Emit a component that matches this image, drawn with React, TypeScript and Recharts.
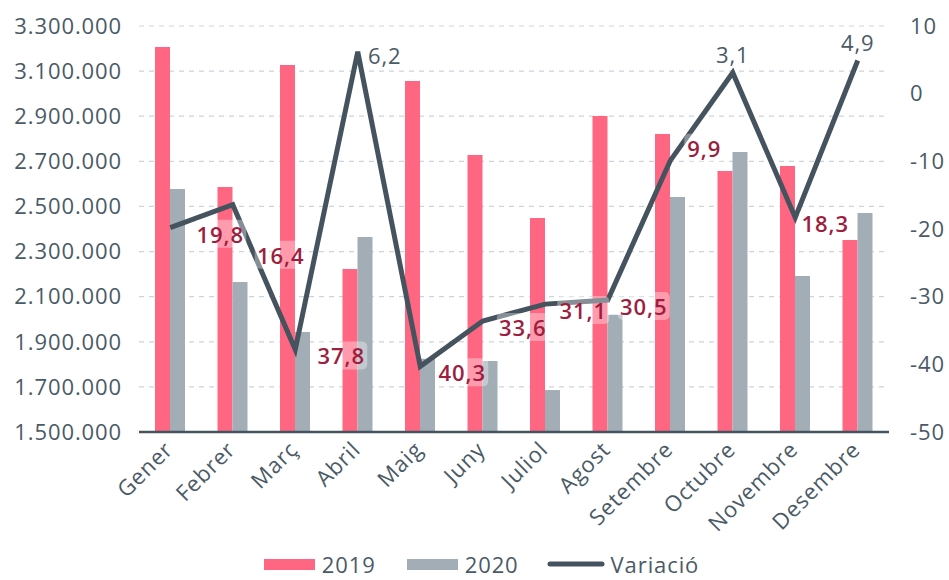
import React from 'react';
import { ComposedChart, Bar, Line, XAxis, YAxis, CartesianGrid, Legend, LabelList } from 'recharts';

const months = ['Gener', 'Febrer', 'Març', 'Abril', 'Maig', 'Juny', 'Juliol', 'Agost', 'Setembre', 'Octubre', 'Novembre', 'Desembre'];
const values2019 = [3207000, 2586000, 3127000, 2223000, 3056000, 2728000, 2449000, 2901000, 2821000, 2657000, 2679000, 2351000];
const values2020 = [2577000, 2165000, 1943000, 2365000, 1825000, 1815000, 1686000, 2020000, 2542000, 2741000, 2192000, 2471000];
const variacio = [-19.8, -16.4, -37.8, 6.2, -40.3, -33.6, -31.1, -30.5, -9.9, 3.1, -18.3, 4.9];
const leftTicks = [1500000, 1700000, 1900000, 2100000, 2300000, 2500000, 2700000, 2900000, 3100000, 3300000];
const rightTicks = [-50, -40, -30, -20, -10, 0, 10];

const FONT = '"Open Sans", sans-serif';
const TEXT = '#4A5A66';
const PINK = '#FF6682';
const GRAY = '#A2ADB6';
const LINE = '#45535F';
const RED = '#9D1E3E';
const FS = 22;
const LS = 0.9;

const fmtThousands = (v: number) => String(v).replace(/\B(?=(\d{3})+(?!\d))/g, '.');
const fmtDec = (v: number) => Math.abs(v).toFixed(1).replace('.', ',');

const XTick = (props: any) => {
  const { x, y, payload } = props;
  return (
    <g transform={`translate(${x + 4},${y + 19})`}>
      <text x={0} y={0} textAnchor="end" transform="rotate(-45)" fill={TEXT} fontSize={FS} fontFamily={FONT} letterSpacing={LS}>
        {payload.value}
      </text>
    </g>
  );
};

const labelNudge: Record<number, { dx: number; dy: number }> = {
  1: { dx: 0, dy: 44 },
  3: { dx: 27, dy: 22 },
  8: { dx: 0, dy: -19 },
};

const VarLabel = (props: any) => {
  const { x, y, value, index } = props;
  if (x == null || y == null) return null;
  const nudge = labelNudge[index] || { dx: 0, dy: 0 };
  const txt = fmtDec(value);
  if (value < 0) {
    const cx = x + 50 - 2 * index + nudge.dx;
    const cy = y + 6 + nudge.dy;
    const w = txt.length * 12 + 4;
    return (
      <g>
        <rect x={cx - w / 2} y={cy - 14} width={w} height={28} rx={5} fill="#ffffff" fillOpacity={0.35} />
        <text x={cx} y={cy} textAnchor="middle" dominantBaseline="central" fill={RED} fontSize={FS} fontWeight={600} fontFamily={FONT} letterSpacing={LS}>
          {txt}
        </text>
      </g>
    );
  }
  const cx = x + nudge.dx;
  const cy = y - 19 + nudge.dy;
  return (
    <text x={cx} y={cy} textAnchor="middle" dominantBaseline="central" fill={TEXT} fontSize={FS} fontFamily={FONT} letterSpacing={LS}>
      {txt}
    </text>
  );
};

const LegendContent = () => (
  <div style={{ display: 'flex', justifyContent: 'center', alignItems: 'center', fontFamily: FONT, fontSize: FS, lineHeight: '24px', letterSpacing: LS, color: TEXT, height: 24, paddingLeft: 14 }}>
    <span style={{ display: 'inline-block', width: 51, height: 11, background: PINK, marginRight: 7 }} />
    <span style={{ marginRight: 31 }}>2019</span>
    <span style={{ display: 'inline-block', width: 51, height: 11, background: GRAY, marginRight: 7 }} />
    <span style={{ marginRight: 28 }}>2020</span>
    <svg width={58} height={10} style={{ marginRight: 6 }}>
      <line x1={3} y1={5} x2={55} y2={5} stroke={LINE} strokeWidth={5} strokeLinecap="round" />
    </svg>
    <span>Variació</span>
  </div>
);

export default function App() {
  const data = months.map((m, i) => ({ month: m, y2019: values2019[i], y2020: values2020[i], variacio: variacio[i] }));
  return (
    <div style={{ position: 'absolute', left: 0, top: 0, width: 949, height: 580, background: '#fff', overflow: 'hidden' }}>
      <ComposedChart width={949} height={580} data={data} margin={{ top: 26, right: 0, bottom: 48, left: 0 }} barGap={0}>
        <CartesianGrid yAxisId="left" vertical={false} stroke="#CDD4DB" strokeDasharray="5 5" strokeWidth={1.2} />
        <XAxis
          dataKey="month"
          interval={0}
          height={100}
          tickLine={false}
          tickSize={0}
          tickMargin={0}
          axisLine={{ stroke: LINE, strokeWidth: 2.5 }}
          tick={<XTick />}
        />
        <YAxis
          yAxisId="left"
          width={139}
          domain={[1500000, 3300000]}
          ticks={leftTicks}
          axisLine={false}
          tickLine={false}
          tickSize={15}
          tickMargin={2}
          tickFormatter={fmtThousands}
          tick={{ fill: TEXT, fontSize: FS, fontFamily: FONT, letterSpacing: LS }}
          allowDataOverflow
        />
        <YAxis
          yAxisId="right"
          orientation="right"
          width={60}
          domain={[-50, 10]}
          ticks={rightTicks}
          axisLine={false}
          tickLine={false}
          tickSize={19}
          tickMargin={2}
          tick={{ fill: TEXT, fontSize: FS, fontFamily: FONT, textAnchor: 'start', letterSpacing: LS }}
          allowDataOverflow
        />
        <Bar yAxisId="left" dataKey="y2019" name="2019" fill={PINK} barSize={15} isAnimationActive={false} />
        <Bar yAxisId="left" dataKey="y2020" name="2020" fill={GRAY} barSize={15} isAnimationActive={false} />
        <Line
          yAxisId="right"
          type="linear"
          dataKey="variacio"
          name="Variació"
          stroke={LINE}
          strokeWidth={5}
          dot={false}
          activeDot={false}
          isAnimationActive={false}
        >
          <LabelList dataKey="variacio" content={<VarLabel />} />
        </Line>
        <Legend
          layout="horizontal"
          verticalAlign="middle"
          align="center"
          content={<LegendContent />}
          wrapperStyle={{ position: 'absolute', top: 552, left: 0, width: 949, height: 24 }}
        />
      </ComposedChart>
    </div>
  );
}
